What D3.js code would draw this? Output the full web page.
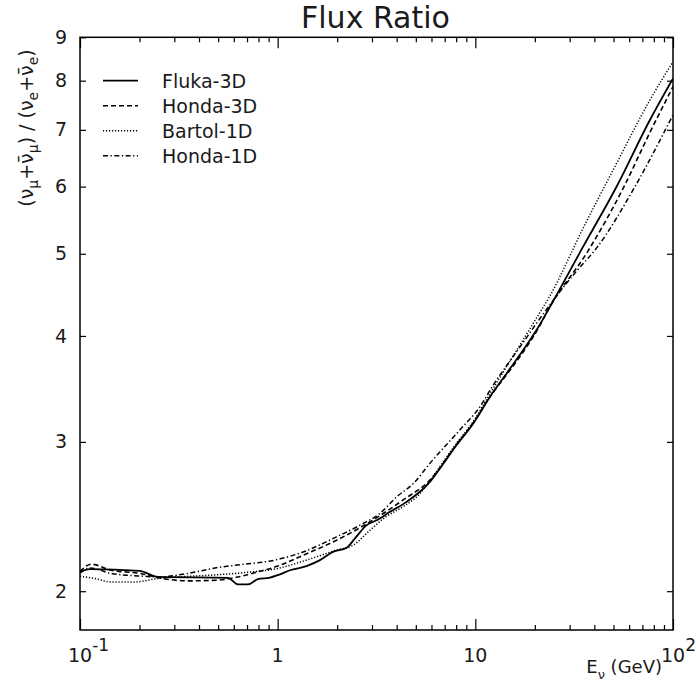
<!DOCTYPE html>
<html>
<head>
<meta charset="utf-8">
<script src="https://cdn.jsdelivr.net/npm/d3@7"></script>
<style>
  body { margin: 0; background: #fff; }
  text { font-family: "DejaVu Sans", sans-serif; fill: #1a1a1a; }
</style>
</head>
<body>
<div id="chart"></div>
<script>
// energies (GeV) and flux ratios, one pair of arrays per model
const flukaE = [0.1, 0.112, 0.2, 0.248, 0.56, 0.63, 0.707, 0.794, 0.914, 1.0, 1.154, 1.4, 1.637, 1.905, 2.233, 2.46, 2.82, 3.17, 3.7, 4.49, 5.89, 6.62, 8.04, 9.76, 11.86, 14.39, 17.47, 20.4, 23.85, 35.1, 51.8, 76.4, 100];
const flukaR = [2.108, 2.123, 2.113, 2.079, 2.074, 2.037, 2.037, 2.066, 2.075, 2.089, 2.117, 2.141, 2.176, 2.225, 2.25, 2.308, 2.393, 2.425, 2.481, 2.549, 2.691, 2.791, 2.974, 3.154, 3.391, 3.613, 3.849, 4.064, 4.33, 5.097, 5.998, 7.19, 8.05];

const honda3dE = [0.1, 0.114, 0.144, 0.201, 0.248, 0.352, 0.499, 0.63, 0.794, 1.0, 1.347, 1.986, 2.93, 4.3, 5.89, 8.04, 9.76, 11.86, 14.39, 17.47, 20.4, 23.85, 37.2, 56.5, 76.4, 100];
const honda3dR = [2.11, 2.152, 2.117, 2.099, 2.075, 2.057, 2.061, 2.079, 2.108, 2.141, 2.205, 2.297, 2.414, 2.561, 2.704, 2.98, 3.16, 3.39, 3.6, 3.83, 4.05, 4.33, 5.04, 6.0, 6.95, 7.87];

const bartolE = [0.1, 0.1186, 0.144, 0.189, 0.248, 0.313, 0.461, 0.681, 1.0, 1.347, 1.986, 2.41, 2.93, 3.52, 4.3, 5.25, 5.89, 8.04, 9.76, 11.86, 14.39, 17.47, 20.4, 23.85, 35.1, 51.8, 76.4, 100];
const bartolR = [2.083, 2.07, 2.051, 2.051, 2.07, 2.079, 2.089, 2.104, 2.127, 2.17, 2.236, 2.266, 2.36, 2.447, 2.515, 2.608, 2.7, 2.99, 3.17, 3.42, 3.68, 3.96, 4.2, 4.46, 5.36, 6.39, 7.59, 8.42];

const honda1dE = [0.1, 0.112, 0.144, 0.21, 0.25, 0.352, 0.499, 0.681, 0.966, 1.347, 1.986, 2.61, 3.29, 4.0, 4.86, 5.89, 8.36, 10.55, 12.32, 15, 18, 20.4, 25.8, 32, 41.1, 64.2, 100];
const honda1dR = [2.1, 2.13, 2.099, 2.083, 2.079, 2.099, 2.133, 2.152, 2.176, 2.225, 2.318, 2.393, 2.47, 2.584, 2.68, 2.83, 3.1, 3.3, 3.5, 3.74, 3.97, 4.14, 4.46, 4.75, 5.08, 6.0, 7.29];

const seriesNames = ["Fluka-3D", "Honda-3D", "Bartol-1D", "Honda-1D"];
const yTickValues = [2, 3, 4, 5, 6, 7, 8, 9];
const xMajorTicks = [0.1, 1, 10, 100];
const xTickLabels = [["10", "-1"], ["1", ""], ["10", ""], ["10", "2"]];

const width = 696, height = 686;
const plotLeft = 80, plotRight = 673, plotTop = 37.3, plotBottom = 630;

const svg = d3.select("#chart").append("svg")
  .attr("width", width)
  .attr("height", height);

const x = d3.scaleLog().domain([0.1, 100]).range([plotLeft, plotRight]);
const y = d3.scaleLog().domain([1.8, 9]).range([plotBottom, plotTop]);

// minor ticks 2..9 in each decade
const xMinorTicks = [];
[0.1, 1, 10].forEach((d) => {
  for (let k = 2; k <= 9; k++) xMinorTicks.push(d * k);
});

const series = [
  { name: seriesNames[0], e: flukaE, r: flukaR, dash: null, w: 1.8 },
  { name: seriesNames[1], e: honda3dE, r: honda3dR, dash: "5,3", w: 1.6 },
  { name: seriesNames[2], e: bartolE, r: bartolR, dash: "1.2,1.8", w: 1.5 },
  { name: seriesNames[3], e: honda1dE, r: honda1dR, dash: "5,2.5,1.3,2.5", w: 1.5 },
];

svg.append("clipPath").attr("id", "plot-clip")
  .append("rect")
  .attr("x", plotLeft).attr("y", plotTop)
  .attr("width", plotRight - plotLeft).attr("height", plotBottom - plotTop);

const line = d3.line()
  .x((d) => x(d[0]))
  .y((d) => y(d[1]))
  .curve(d3.curveMonotoneX);

svg.append("g")
  .attr("clip-path", "url(#plot-clip)")
  .selectAll("path")
  .data(series)
  .enter()
  .append("path")
  .attr("d", (s) => line(s.e.map((e, i) => [e, s.r[i]])))
  .attr("fill", "none")
  .attr("stroke", "#000")
  .attr("stroke-width", (s) => s.w)
  .attr("stroke-dasharray", (s) => s.dash);

// ticks (all pointing into the plot)
function styleTicks(g) {
  g.select(".domain").remove();
  g.selectAll("line").attr("stroke", "#000").attr("stroke-width", 1.2);
}

svg.append("g").attr("transform", `translate(0,${plotBottom})`)
  .call(d3.axisBottom(x).tickValues(xMinorTicks).tickSize(-5).tickFormat(""))
  .call(styleTicks);
svg.append("g").attr("transform", `translate(0,${plotBottom})`)
  .call(d3.axisBottom(x).tickValues(xMajorTicks).tickSize(-11).tickFormat(""))
  .call(styleTicks);
svg.append("g").attr("transform", `translate(0,${plotTop})`)
  .call(d3.axisTop(x).tickValues(xMinorTicks).tickSize(-5).tickFormat(""))
  .call(styleTicks);
svg.append("g").attr("transform", `translate(0,${plotTop})`)
  .call(d3.axisTop(x).tickValues(xMajorTicks).tickSize(-11).tickFormat(""))
  .call(styleTicks);

const yLeft = svg.append("g").attr("transform", `translate(${plotLeft},0)`)
  .call(d3.axisLeft(y).tickValues(yTickValues).tickSize(-6).tickPadding(13).tickFormat(d3.format("d")))
  .call(styleTicks);
yLeft.attr("font-family", null).attr("font-size", null);
yLeft.selectAll("text").style("font-size", "19px").attr("fill", "#1a1a1a");

svg.append("g").attr("transform", `translate(${plotRight},0)`)
  .call(d3.axisRight(y).tickValues(yTickValues).tickSize(-6).tickFormat(""))
  .call(styleTicks);

// frame
svg.append("rect")
  .attr("x", plotLeft).attr("y", plotTop)
  .attr("width", plotRight - plotLeft).attr("height", plotBottom - plotTop)
  .attr("fill", "none")
  .attr("stroke", "#000")
  .attr("stroke-width", 1.5);

// x tick labels with superscripts
const xl = svg.append("g").selectAll("text")
  .data(xMajorTicks)
  .enter()
  .append("text")
  .attr("x", (d, i) => x(d) - (xTickLabels[i][1] ? 12 : 0))
  .attr("y", plotBottom + 32)
  .attr("text-anchor", (d, i) => (xTickLabels[i][1] ? "start" : "middle"))
  .style("font-size", "19px");
xl.append("tspan").text((d, i) => xTickLabels[i][0]);
xl.append("tspan")
  .attr("dy", -11)
  .style("font-size", "17px")
  .text((d, i) => xTickLabels[i][1]);

// axis titles
const xt = svg.append("text")
  .attr("x", plotRight - 11)
  .attr("y", 673)
  .attr("text-anchor", "end")
  .style("font-size", "18px");
xt.append("tspan").text("E");
xt.append("tspan").attr("dy", 6).style("font-size", "13px").text("\u03bd");
xt.append("tspan").attr("dy", -6).text(" (GeV)");

const yt = svg.append("text")
  .attr("transform", "translate(33,128) rotate(-90)")
  .attr("text-anchor", "middle")
  .style("font-size", "19px");
const yParts = [
  ["(\u03bd", 0], ["\u03bc", 1], ["+\u03bd\u0304", -1], ["\u03bc", 1],
  [")  / (\u03bd", -1], ["e", 1], ["+\u03bd\u0304", -1], ["e", 1], [")", -1],
];
yParts.forEach(([t, sub]) => {
  yt.append("tspan")
    .attr("dy", sub * 5)
    .style("font-size", sub > 0 ? "14px" : "19px")
    .text(t);
});

svg.append("text")
  .attr("x", (plotLeft + plotRight) / 2 - 1)
  .attr("y", 28)
  .attr("text-anchor", "middle")
  .style("font-size", "30px")
  .text("Flux Ratio");

// legend
const legend = svg.append("g")
  .selectAll("g")
  .data(series)
  .enter()
  .append("g")
  .attr("transform", (d, i) => `translate(103,${80.7 + i * 25})`);

legend.append("line")
  .attr("x1", 0).attr("x2", 35)
  .attr("stroke", "#000")
  .attr("stroke-width", (d) => d.w)
  .attr("stroke-dasharray", (d) => d.dash);

legend.append("text")
  .attr("x", 59)
  .attr("y", 7)
  .style("font-size", "19px")
  .text((d) => d.name);
</script>
</body>
</html>
